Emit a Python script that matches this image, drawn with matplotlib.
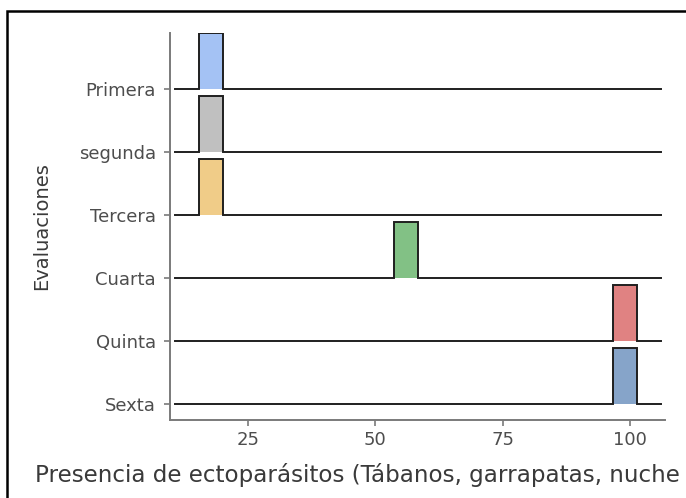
import matplotlib.pyplot as plt
from matplotlib.patches import Rectangle

# evaluaciones, de arriba hacia abajo
evaluaciones = ['Primera', 'segunda', 'Tercera', 'Cuarta', 'Quinta', 'Sexta']
centros = [17.8, 17.8, 17.8, 56.0, 99.0, 99.0]   # centro de cada bloque
ancho = 4.8
colores = ['#a4c2f4', '#c0c0c0', '#f0cc88', '#82c185', '#e08282', '#86a4c9']
x_rango = (10.7, 106.1)
escala = 0.89

fig = plt.figure(figsize=(6.86, 4.98), dpi=100)
ax = fig.add_axes([0.2478, 0.1566, 0.9694 - 0.2478, 0.9337 - 0.1566])

n = len(evaluaciones)
for i, (lab, c, col) in enumerate(zip(evaluaciones, centros, colores)):
    base = n - i
    x0, x1 = c - ancho / 2, c + ancho / 2
    ax.fill_between([x0, x1], base, base + escala, color=col, lw=0, zorder=2 + i)
    xs = [x_rango[0], x0, x0, x1, x1, x_rango[1]]
    ys = [base, base, base + escala, base + escala, base, base]
    ax.plot(xs, ys, color='#1f1f1f', lw=1.4, zorder=2 + i, solid_joinstyle='miter')

ax.set_xlim(9.7, 106.9)
ax.set_ylim(0.754, n + escala)
ax.set_xticks([25, 50, 75, 100])
ax.set_yticks(range(n, 0, -1))
ax.set_yticklabels(evaluaciones)

for s in ['top', 'right']:
    ax.spines[s].set_visible(False)
for s in ['left', 'bottom']:
    ax.spines[s].set_color('#7a7a7a')
    ax.spines[s].set_linewidth(1.4)
ax.tick_params(colors='#7a7a7a', length=4, width=1.2, labelsize=13, labelcolor='#4d4d4d')
ax.tick_params(axis='y', pad=6)
ax.tick_params(axis='x', pad=4)

ax.set_ylabel('Evaluaciones', fontsize=14, color='#3a3a3a')
ax.yaxis.set_label_coords(-0.241, 0.5)
fig.text(35 / 686, (498 - 475) / 498, 'Presencia de ectoparásitos (Tábanos, garrapatas, nuche',
         fontsize=16.6, color='#3a3a3a', ha='left', va='center')

fig.patches.append(Rectangle((7 / 686, -0.1), 1.2, (498 - 11) / 498 + 0.1,
                             transform=fig.transFigure, fill=False,
                             edgecolor='black', lw=1.8))

fig.savefig('out.png', dpi=100)
